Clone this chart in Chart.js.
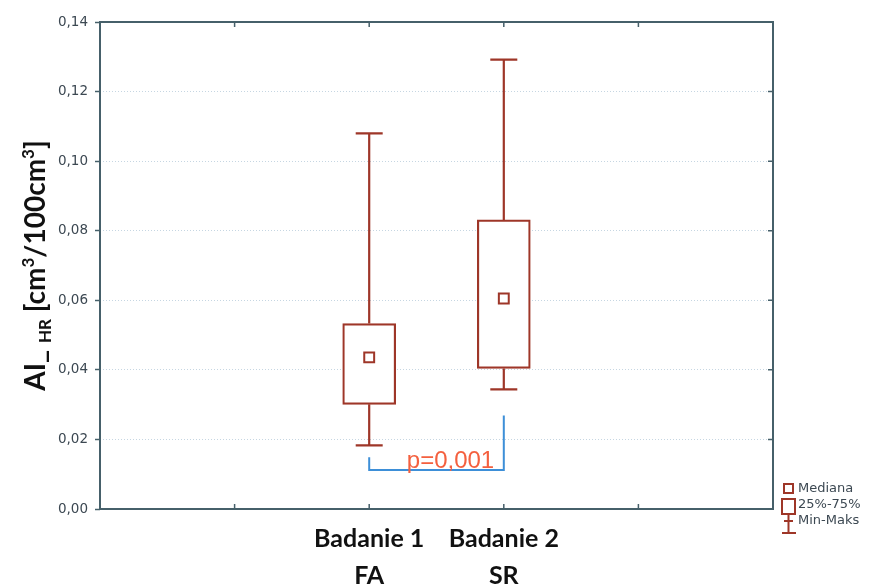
<!DOCTYPE html>
<html>
<head>
<meta charset="utf-8">
<script src="https://cdn.jsdelivr.net/npm/chart.js@4.4.0/dist/chart.umd.min.js"></script>
<style>
  body { margin: 0; background: #fff; }
</style>
</head>
<body>
<canvas id="boxChart" width="870" height="586"></canvas>
<script>
// box plot data: min, quartiles, median, max
var categories = ['Badanie 1', 'Badanie 2'];
var groups = ['FA', 'SR'];
var mins = [0.0183, 0.0344];
var q1 = [0.0301, 0.0404];
var medians = [0.0436, 0.0605];
var q3 = [0.0533, 0.0831];
var maxs = [0.108, 0.1292];
var yTicks = [0, 0.02, 0.04, 0.06, 0.08, 0.10, 0.12, 0.14];

// significance bracket between the two groups
var pLabel = 'p=0,001';
var bracketY = [0.0149, 0.0112, 0.0112, 0.0269];
var pLabelY = 0.0138;

var legendItems = ['Mediana', '25%-75%', 'Min-Maks'];

var boxColor = '#9e3628';
var frameColor = '#46606a';

// two empty slots on each side of the groups
var labels = ['', ''].concat(categories, ['', '']);

var boxData = categories.map(function (c, i) { return { x: c, y: [q1[i], q3[i]] }; });
var medianData = categories.map(function (c, i) { return { x: c, y: medians[i] }; });
var bracketData = [
  { x: categories[0], y: bracketY[0] },
  { x: categories[0], y: bracketY[1] },
  { x: categories[1], y: bracketY[2] },
  { x: categories[1], y: bracketY[3] }
];

var boxPlotPlugin = {
  id: 'boxPlot',
  beforeDatasetsDraw: function (chart) {
    var ctx = chart.ctx;
    var y = chart.scales.y;
    var bars = chart.getDatasetMeta(0).data;
    ctx.save();
    ctx.strokeStyle = boxColor;
    ctx.lineWidth = 2.2;
    bars.forEach(function (bar, i) {
      var cx = bar.x;
      var cap = 13.5;
      var yMax = y.getPixelForValue(maxs[i]);
      var yMin = y.getPixelForValue(mins[i]);
      ctx.beginPath();
      ctx.moveTo(cx, yMax); ctx.lineTo(cx, y.getPixelForValue(q3[i]));
      ctx.moveTo(cx, y.getPixelForValue(q1[i])); ctx.lineTo(cx, yMin);
      ctx.moveTo(cx - cap, yMax); ctx.lineTo(cx + cap, yMax);
      ctx.moveTo(cx - cap, yMin); ctx.lineTo(cx + cap, yMin);
      ctx.stroke();
    });
    ctx.restore();
  },
  afterDatasetsDraw: function (chart) {
    var ctx = chart.ctx;
    var area = chart.chartArea;
    var x = chart.scales.x, y = chart.scales.y;

    // p-value text
    var px = (x.getPixelForValue(2) + x.getPixelForValue(3)) / 2 + 14;
    ctx.save();
    ctx.fillStyle = '#f4603f';
    ctx.font = '24px "Liberation Sans", Arial, sans-serif';
    ctx.textAlign = 'center';
    ctx.textBaseline = 'middle';
    ctx.fillText(pLabel, px, y.getPixelForValue(pLabelY));

    // frame
    ctx.strokeStyle = frameColor;
    ctx.lineWidth = 2;
    ctx.strokeRect(area.left, area.top, area.right - area.left, area.bottom - area.top);

    // inward tick marks on top, bottom and right
    ctx.lineWidth = 1.5;
    ctx.beginPath();
    for (var i = 1; i < labels.length - 1; i++) {
      var tx = x.getPixelForValue(i);
      ctx.moveTo(tx, area.bottom); ctx.lineTo(tx, area.bottom - 5);
      ctx.moveTo(tx, area.top); ctx.lineTo(tx, area.top + 5);
    }
    yTicks.forEach(function (v) {
      var ty = y.getPixelForValue(v);
      ctx.moveTo(area.right, ty); ctx.lineTo(area.right - 5, ty);
    });
    ctx.stroke();
    ctx.restore();
  },
  afterDraw: function (chart) {
    var ctx = chart.ctx;
    var y = chart.scales.y;
    ctx.save();

    // y axis title with subscript and superscripts
    var parts = [
      ['AI_ ', 28, 0],
      ['HR', 17, 6],
      [' [cm', 28, 0],
      ['3', 17, -11],
      ['/100cm', 28, 0],
      ['3', 17, -11],
      [']', 28, 0]
    ];
    var total = 0;
    parts.forEach(function (p) {
      ctx.font = 'bold ' + p[1] + 'px Lato, sans-serif';
      p.push(ctx.measureText(p[0]).width);
      total += p[3];
    });
    var cy = (y.top + y.bottom) / 2;
    ctx.translate(45, cy);
    ctx.rotate(-Math.PI / 2);
    ctx.fillStyle = '#111';
    ctx.textBaseline = 'alphabetic';
    var cx = -total / 2;
    parts.forEach(function (p) {
      ctx.font = 'bold ' + p[1] + 'px Lato, sans-serif';
      ctx.fillText(p[0], cx, p[2]);
      cx += p[3];
    });
    ctx.setTransform(1, 0, 0, 1, 0, 0);

    // legend
    ctx.strokeStyle = boxColor;
    ctx.lineWidth = 2;
    ctx.strokeRect(784, 484, 9, 9);
    ctx.strokeRect(782, 499, 13, 15);
    ctx.beginPath();
    ctx.moveTo(788.5, 514); ctx.lineTo(788.5, 533);
    ctx.moveTo(782, 533); ctx.lineTo(796, 533);
    ctx.moveTo(784, 521); ctx.lineTo(793, 521);
    ctx.stroke();
    ctx.fillStyle = '#3c4852';
    ctx.font = '13px "DejaVu Sans", sans-serif';
    ctx.textBaseline = 'middle';
    legendItems.forEach(function (t, i) {
      ctx.fillText(t, 798, 489 + i * 16);
    });
    ctx.restore();
  }
};

var ctx = document.getElementById('boxChart').getContext('2d');
var boxChart = new Chart(ctx, {
  data: {
    labels: labels,
    datasets: [{
      type: 'bar',
      data: boxData,
      backgroundColor: '#ffffff',
      borderColor: boxColor,
      borderWidth: 2.2,
      borderSkipped: false,
      barThickness: 53,
      order: 2
    }, {
      type: 'line',
      data: medianData,
      showLine: false,
      pointStyle: 'rect',
      pointRadius: 7,
      pointBorderWidth: 2,
      pointBackgroundColor: '#ffffff',
      pointBorderColor: boxColor,
      order: 1
    }, {
      type: 'line',
      data: bracketData,
      borderColor: '#3d8fd8',
      borderWidth: 2,
      pointRadius: 0,
      tension: 0,
      fill: false,
      order: 0
    }]
  },
  options: {
    responsive: false,
    animation: false,
    layout: { padding: { left: 0, top: 22, right: 97, bottom: 0 } },
    plugins: {
      legend: { display: false },
      tooltip: { enabled: false }
    },
    scales: {
      x: {
        type: 'category',
        offset: false,
        grid: { display: false, drawTicks: false },
        border: { display: false },
        afterFit: function (scale) { scale.height = 77; },
        ticks: {
          autoSkip: false,
          maxRotation: 0,
          padding: 11,
          color: '#111',
          font: { family: 'Lato, sans-serif', size: 25, weight: 'bold', lineHeight: 1.48 },
          callback: function (value, index) {
            var i = categories.indexOf(labels[index]);
            return i < 0 ? '' : [categories[i], groups[i]];
          }
        }
      },
      y: {
        min: 0,
        max: 0.14,
        afterBuildTicks: function (scale) {
          scale.ticks = yTicks.map(function (v) { return { value: v }; });
        },
        afterFit: function (scale) { scale.width = 100; },
        grid: {
          color: '#c6d6e2',
          lineWidth: 1,
          tickColor: frameColor,
          tickLength: 5,
          tickWidth: 1.5
        },
        border: { display: false, dash: [1, 2] },
        ticks: {
          padding: 7,
          color: '#3c4852',
          font: { family: '"DejaVu Sans", sans-serif', size: 13.5 },
          callback: function (v) { return v.toFixed(2).replace('.', ','); }
        }
      }
    }
  },
  plugins: [boxPlotPlugin]
});
</script>
</body>
</html>
